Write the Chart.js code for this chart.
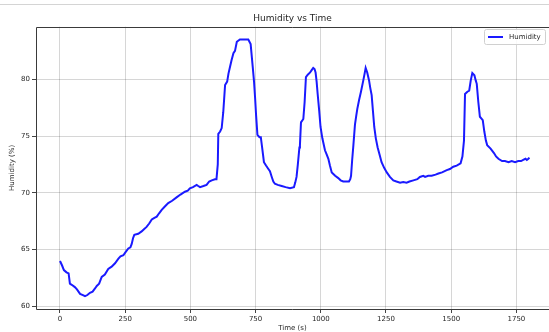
<!DOCTYPE html>
<html>
<head>
<meta charset="utf-8">
<script src="https://cdn.jsdelivr.net/npm/chart.js@4/dist/chart.umd.min.js"></script>
<style>
  html, body { margin: 0; padding: 0; overflow: hidden; background: #fff; width: 549px; height: 332px; }
  #c { position: absolute; left: 0; top: 0; }
  #topline { position: absolute; left: 0; top: 4px; width: 549px; height: 1px; background: #d4d4d4; }
</style>
</head>
<body>
<div id="topline"></div>
<canvas id="c" width="549" height="332" style="width:549px;height:332px"></canvas>
<script>
const times = [0,8,15,25,33,38,45,57,65,77,88,96,105,115,125,135,141,150,160,172,185,198,211,224,232,243,252,262,270,275,280,285,300,313,322,332,342,352,362,371,380,390,402,415,430,447,462,479,490,498,510,524,530,537,550,562,572,582,594,600,605,607,614,620,626,633,641,646,652,658,665,671,678,690,705,722,731,739,744,748,752,757,765,770,775,782,790,799,805,812,818,824,835,850,865,882,897,902,907,912,918,920,924,933,938,943,950,959,965,971,976,980,984,988,994,999,1006,1016,1022,1029,1035,1042,1055,1067,1076,1086,1100,1108,1113,1116,1120,1125,1131,1136,1140,1147,1154,1163,1168,1172,1178,1185,1190,1195,1200,1205,1211,1218,1226,1233,1243,1253,1265,1278,1290,1304,1316,1329,1340,1355,1370,1380,1393,1400,1412,1425,1440,1451,1465,1483,1495,1508,1521,1536,1543,1549,1553,1562,1569,1575,1581,1589,1594,1598,1604,1610,1621,1627,1633,1638,1651,1664,1672,1681,1695,1706,1720,1732,1745,1757,1768,1776,1785,1790,1796,1800];
const humidity = [64.0,63.6,63.2,63.0,62.9,62.0,61.9,61.7,61.5,61.1,61.0,60.9,61.0,61.2,61.3,61.6,61.8,62.0,62.6,62.8,63.3,63.5,63.8,64.2,64.4,64.5,64.8,65.1,65.2,65.5,66.0,66.3,66.4,66.6,66.8,67.0,67.3,67.65,67.8,67.9,68.2,68.5,68.8,69.1,69.3,69.6,69.85,70.1,70.2,70.4,70.5,70.7,70.6,70.5,70.6,70.7,71.0,71.1,71.2,71.2,72.5,75.2,75.4,75.7,77.1,79.5,79.8,80.5,81.1,81.7,82.3,82.5,83.3,83.5,83.5,83.5,83.1,81.1,79.8,78.4,76.8,75.1,74.9,74.9,74.0,72.7,72.4,72.1,71.9,71.4,71.0,70.8,70.7,70.6,70.5,70.4,70.5,70.9,71.4,72.5,74.0,74.2,76.2,76.5,78.0,80.2,80.4,80.6,80.8,81.0,80.9,80.6,79.8,78.7,77.2,75.8,74.8,73.75,73.4,73.0,72.4,71.8,71.5,71.3,71.1,71.0,71.0,71.0,71.2,71.5,72.8,74.2,76.0,76.8,77.4,78.2,78.9,79.9,80.5,81.0,80.6,79.9,79.2,78.6,77.2,75.8,74.8,74.0,73.3,72.7,72.2,71.8,71.4,71.1,71.0,70.9,70.95,70.9,71.0,71.1,71.2,71.4,71.5,71.4,71.5,71.5,71.6,71.7,71.8,72.0,72.1,72.3,72.4,72.6,73.2,74.6,78.7,78.9,79.0,79.9,80.55,80.35,79.9,79.6,78.0,76.7,76.4,75.4,74.6,74.2,73.9,73.5,73.2,73.0,72.8,72.8,72.7,72.8,72.7,72.8,72.8,72.9,73.0,72.9,73.0,73.1];
const xTicks = [0,250,500,750,1000,1250,1500,1750];
const yTicks = [60,65,70,75,80];
const seriesLabel = 'Humidity';
const chartTitle = 'Humidity vs Time';
const xLabel = 'Time (s)';
const yLabel = 'Humidity (%)';

const FONT = 'DejaVu Sans';
const TXT = '#262626';

const points = times.map((t, i) => ({x: t, y: humidity[i]}));

const framePlugin = {
  id: 'frame',
  afterDraw(chart) {
    const {ctx, chartArea: a} = chart;
    ctx.save();
    ctx.strokeStyle = '#3a3a3a';
    ctx.lineWidth = 1;
    const L = Math.round(a.left) + 0.5, T = Math.round(a.top) + 0.5, B = Math.round(a.bottom) + 0.5;
    ctx.beginPath();
    ctx.moveTo(549, T); ctx.lineTo(L, T); ctx.lineTo(L, B); ctx.lineTo(549, B);
    ctx.stroke();
    // legend
    const lx = 484, ly = 29, lw = 61, lh = 15;
    ctx.fillStyle = 'rgba(255,255,255,0.85)';
    ctx.strokeStyle = '#d0d0d0';
    ctx.beginPath();
    if (ctx.roundRect) ctx.roundRect(lx + 0.5, ly + 0.5, lw, lh, 2); else ctx.rect(lx + 0.5, ly + 0.5, lw, lh);
    ctx.fill();
    ctx.stroke();
    const ds = chart.data.datasets[0];
    ctx.strokeStyle = ds.borderColor;
    ctx.lineWidth = 2;
    ctx.beginPath();
    ctx.moveTo(488, 37);
    ctx.lineTo(503, 37);
    ctx.stroke();
    ctx.fillStyle = TXT;
    ctx.font = '7px "' + FONT + '"';
    ctx.textBaseline = 'middle';
    ctx.textAlign = 'left';
    ctx.fillText(ds.label, 509, 37);
    ctx.restore();
  }
};

new Chart(document.getElementById('c'), {
  type: 'line',
  data: {
    datasets: [{
      label: seriesLabel,
      data: points,
      borderColor: '#1a1aff',
      borderWidth: 2,
      pointRadius: 0,
      tension: 0,
      fill: false
    }]
  },
  options: {
    responsive: false,
    maintainAspectRatio: false,
    devicePixelRatio: 1,
    animation: false,
    layout: { padding: { left: 0, right: 0, top: 0, bottom: 0 } },
    plugins: {
      legend: { display: false },
      tooltip: { enabled: false },
      title: {
        display: true,
        text: chartTitle,
        fullSize: false,
        color: TXT,
        font: { family: FONT, size: 9, weight: 'normal', lineHeight: 1.2 },
        padding: { top: 13, bottom: 2.9 }
      }
    },
    scales: {
      x: {
        type: 'linear',
        min: -92,
        max: 1875,
        afterBuildTicks(scale) { scale.ticks = xTicks.map(v => ({value: v})); },
        afterFit(scale) { scale.height = 23; },
        border: { display: false },
        grid: { color: 'rgba(0,0,0,0.16)', lineWidth: 1, tickLength: 4, tickColor: '#444', drawTicks: true },
        ticks: { color: TXT, font: { family: FONT, size: 7 }, padding: 2, maxRotation: 0, autoSkip: false, callback: v => String(v) },
        title: { display: true, text: xLabel, color: TXT, font: { family: FONT, size: 7, lineHeight: 1.2 }, padding: { top: 0, bottom: 0 } }
      },
      y: {
        type: 'linear',
        min: 59.77,
        max: 84.63,
        afterBuildTicks(scale) { scale.ticks = yTicks.map(v => ({value: v})); },
        afterFit(scale) { scale.width = 36; },
        border: { display: false },
        grid: { color: 'rgba(0,0,0,0.16)', lineWidth: 1, tickLength: 4, tickColor: '#444', drawTicks: true },
        ticks: { color: TXT, font: { family: FONT, size: 7 }, padding: 2, autoSkip: false, callback: v => String(v) },
        title: { display: true, text: yLabel, color: TXT, font: { family: FONT, size: 7, lineHeight: 1.2 }, padding: { top: 8, bottom: 0 } }
      }
    }
  },
  plugins: [framePlugin]
});
</script>
</body>
</html>
